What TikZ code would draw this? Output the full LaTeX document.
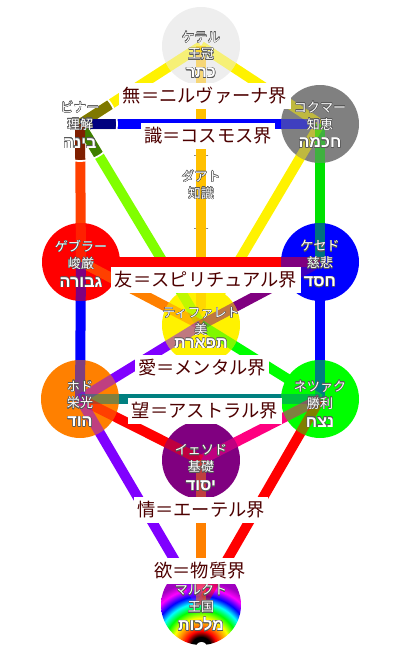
\documentclass[tikz,border=0pt]{standalone}
\usepackage{fontspec}
\usepackage[copies]{contour}
\newfontfamily\jp{Noto Sans CJK JP}
\newfontfamily\hebfont[Script=Hebrew]{Liberation Sans}
\TeXXeTstate=1
\contourlength{0.5pt}

\definecolor{keterfill}{HTML}{EEEEEE}
\definecolor{amber}{HTML}{FFC000}
\definecolor{chartreuse}{HTML}{80FF00}
\definecolor{redorange}{HTML}{FF4000}
\definecolor{orangeB}{HTML}{FF8000}
\definecolor{violetB}{HTML}{8000FF}
\definecolor{pinkB}{HTML}{FF0080}
\definecolor{tealB}{HTML}{008080}
\definecolor{purpleB}{HTML}{800080}
\definecolor{greenB}{HTML}{00E000}
\definecolor{limeB}{HTML}{00FF00}
\definecolor{rbviolet}{HTML}{A000C0}
\definecolor{planetext}{HTML}{4D0000}

\pgfdeclarelayer{bg}
\pgfsetlayers{bg,main}

\pgfdeclareradialshading{rainbow}{\pgfpointorigin}{color(0bp)=(white); color(2.5bp)=(white);
  color(3bp)=(black); color(5bp)=(black); color(8bp)=(red); color(11bp)=(orange);
  color(14.5bp)=(yellow); color(18.5bp)=(green); color(22bp)=(cyan); color(25.5bp)=(blue);
  color(29.5bp)=(magenta); color(33bp)=(rbviolet); color(50bp)=(rbviolet)}

% sefira text: [gap] kana, kanji, hebrew
\newcommand{\seftxt}[4][3pt]{\contour{black!65}{#2}\\\contour{black!65}{#3}\\[#1]%
  {\hebfont\bfseries\fontsize{23}{24}\selectfont\contour{black!65}{\beginR #4\endR}}}

% paths: from/to/colour
\def\sefpaths{keter/chokmah/yellow, keter/binah/yellow, keter/tiferet/amber,
  chokmah/binah/blue, chokmah/tiferet/yellow, chokmah/chesed/greenB,
  binah/tiferet/chartreuse, binah/gevurah/redorange, chesed/gevurah/red,
  chesed/tiferet/purpleB, chesed/netzach/blue, gevurah/tiferet/orangeB,
  gevurah/hod/blue, tiferet/netzach/limeB, tiferet/hod/violetB,
  hod/netzach/tealB, netzach/yesod/pinkB, netzach/malkuth/red,
  hod/yesod/red, hod/malkuth/violetB, yesod/malkuth/orangeB}

\begin{document}
\begin{tikzpicture}[x=0.05cm, y=-0.05cm,
  sefira/.style={circle, minimum size=3.9cm, inner sep=0pt},
  seftext/.style={text=white, align=center, inner sep=0pt, font=\jp\fontsize{18.5}{24}\selectfont},
  sefpath/.style={line width=0.5cm},
  planebox/.style={fill=white, inner xsep=5pt, inner ysep=6pt, text=planetext,
    font=\jp\fontsize{26}{30}\selectfont}]
\useasboundingbox (0,0) rectangle (400,667);

% Sephirot
\node[sefira, fill=keterfill] (keter) at (201,46) {};
\node[sefira, fill=gray] (chokmah) at (320,124) {};
\node[sefira] (binah) at (80,124) {};
\node[sefira, minimum size=3.7cm] (daat) at (201,192) {};
\node[sefira, fill=red] (gevurah) at (81,262) {};
\node[sefira, fill=blue] (chesed) at (320,262) {};
\node[sefira, fill=yellow] (tiferet) at (201,325) {};
\node[sefira, fill=orangeB] (hod) at (80,399) {};
\node[sefira, fill=limeB] (netzach) at (320,399) {};
\node[sefira, fill=purpleB] (yesod) at (201,460) {};
\node[sefira, minimum size=4cm, path picture={
  \node[inner sep=0pt, scale=2.835] (malkuth-rb) at ([yshift=-2.1cm]path picture bounding box.center)
    {\pgfuseshading{rainbow}};}]
  (malkuth) at (201,605) {};

% Paths under the sephirot
\begin{pgfonlayer}{bg}
  \begin{scope}
    \clip (194,140) rectangle (208,240);
    \draw[black, thin] (daat.center) circle (1.85cm);
  \end{scope}
  \foreach \a/\b/\c in \sefpaths
    \draw[sefpath, draw=\c] (\a.center) -- (\b.center);
\end{pgfonlayer}

% Paths seen through the sephirot
\begin{scope}
  \clip (keter.center) circle (1.95cm) (chokmah.center) circle (1.95cm)
    (gevurah.center) circle (1.95cm) (chesed.center) circle (1.95cm)
    (tiferet.center) circle (1.95cm) (hod.center) circle (1.95cm)
    (netzach.center) circle (1.95cm) (yesod.center) circle (1.95cm)
    (malkuth.center) circle (2cm);
  \foreach \a/\b/\c in \sefpaths
    \draw[sefpath, draw=\c, opacity=0.5] (\a.center) -- (\b.center);
\end{scope}

% Binah darkens its paths
\begin{scope}
  \clip (binah.center) circle (1.85cm);
  \draw[sefpath, black, opacity=0.5] (binah.center) -- (keter.center)
    (binah.center) -- (chokmah.center) (binah.center) -- (tiferet.center)
    (binah.center) -- (gevurah.center);
\end{scope}
\draw[white, line width=2.5pt] (binah.center) circle (1.85cm);

% Names
\node[seftext] (keter-t) at (201,55) {\seftxt{ケテル}{王冠}{כתר}};
\node[seftext] (chokmah-t) at (320,125) {\seftxt{コクマー}{知恵}{חכמה}};
\node[seftext] (binah-t) at (80,125) {\seftxt{ビナー}{理解}{בינה}};
\node[seftext, yshift=0.35cm] (daat-t) at (daat) {\contour{black!65}{ダアト}\\\contour{black!65}{知識}};
\node[seftext] (gevurah-t) at (81,264) {\seftxt{ゲブラー}{峻厳}{גבורה}};
\node[seftext] (chesed-t) at (320,264) {\seftxt{ケセド}{慈悲}{חסד}};
\node[seftext] (tiferet-t) at (201,328) {\seftxt[-4pt]{ティファレト}{美}{תפארת}};
\node[seftext] (hod-t) at (80,404) {\seftxt{ホド}{栄光}{הוד}};
\node[seftext] (netzach-t) at (320,404) {\seftxt{ネツァク}{勝利}{נצח}};
\node[seftext] (yesod-t) at (201,468) {\seftxt{イェソド}{基礎}{יסוד}};
\node[seftext] (malkuth-t) at (201,608) {\seftxt{マルクト}{王国}{מלכות}};

% Planes
\node[planebox] (nirvana) at (205,96) {無＝ニルヴァーナ界};
\node[planebox] (cosmos) at (208,136) {識＝コスモス界};
\node[planebox] (spiritual) at (206,280) {友＝スピリチュアル界};
\node[planebox] (mental) at (202,368) {愛＝メンタル界};
\node[planebox] (astral) at (205,411) {望＝アストラル界};
\node[planebox] (etheric) at (201,510) {情＝エーテル界};
\node[planebox] (physical) at (200,571) {欲＝物質界};
\end{tikzpicture}
\end{document}
